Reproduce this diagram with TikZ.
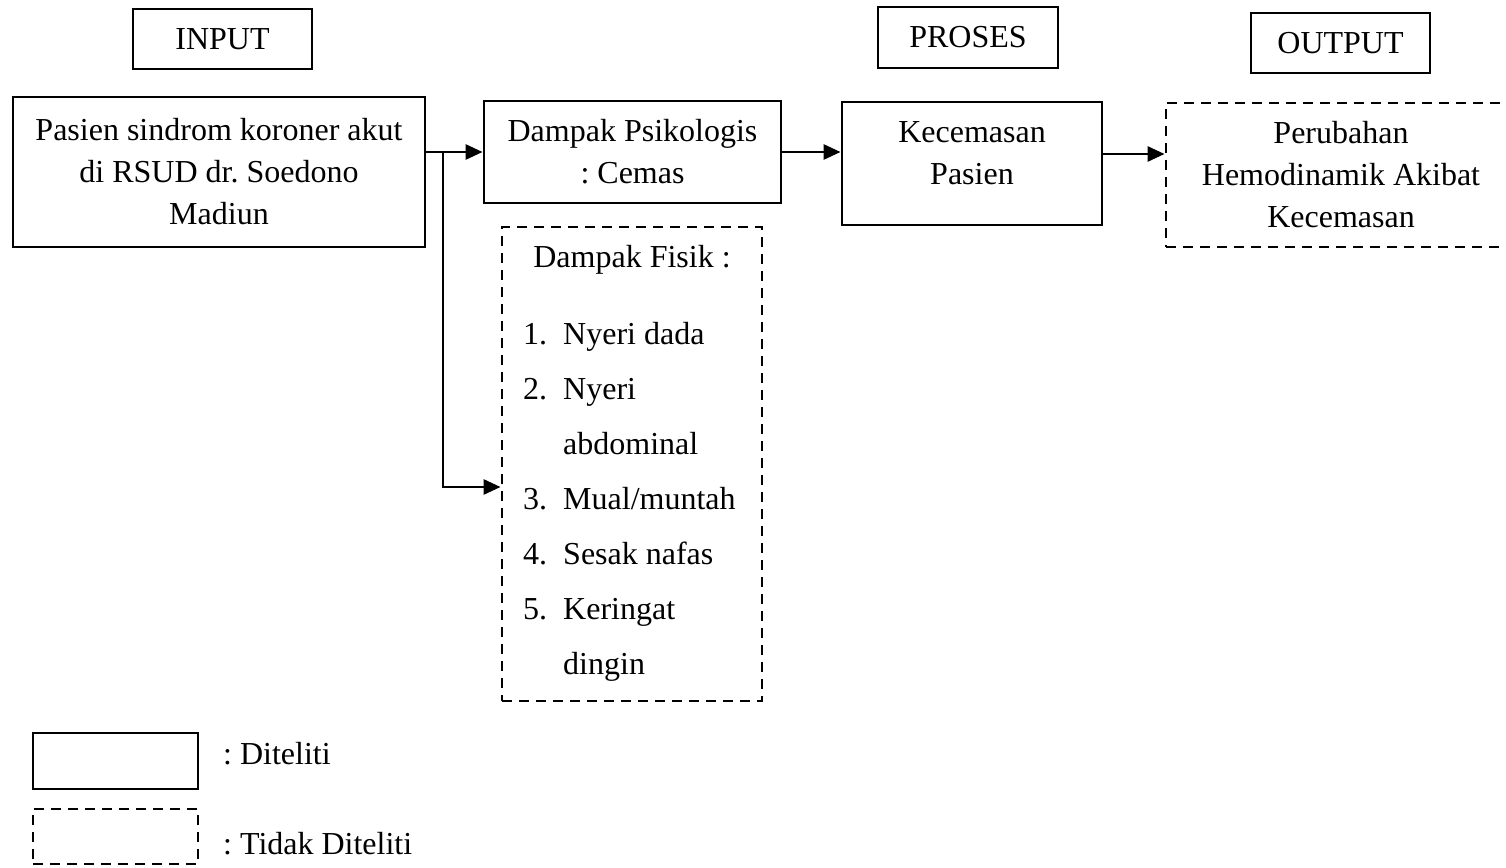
\documentclass[tikz,border=0pt]{standalone}
\usepackage{fontspec}
\setmainfont{Liberation Serif}
\usetikzlibrary{arrows.meta}
\frenchspacing
\begin{document}
\begin{tikzpicture}[x=1pt,y=-1pt,
  txt/.style={font=\fontsize{32}{42}\selectfont, align=center, inner sep=0pt},
  boxs/.style={draw, line width=2.9pt, rectangle, inner sep=0pt, txt},
  boxd/.style={boxs, dash pattern=on 10pt off 7pt},
  arr/.style={line width=2.9pt, -{Triangle[length=17pt,width=15pt]}},
  ln/.style={line width=2.9pt}]
\useasboundingbox (0,0) rectangle (1506,867);
% header labels
\node[boxs, minimum width=179pt, minimum height=60pt] (inp) at (222.5,39) {INPUT};
\node[boxs, minimum width=180pt, minimum height=61pt] (pro) at (968,37.5) {PROSES};
\node[boxs, minimum width=179pt, minimum height=60pt] (outl) at (1340.5,43) {OUTPUT};
% main boxes
\node[boxs, minimum width=412pt, minimum height=150pt] (pas) at (219,172) {Pasien sindrom koroner akut\\di RSUD dr. Soedono\\Madiun};
\node[boxs, minimum width=297pt, minimum height=102pt] (psi) at (632.5,152) {Dampak Psikologis\\: Cemas};
\node[boxs, minimum width=260pt, minimum height=123pt] (kec) at (972,163.5) {};
\node[txt] (kect) at (972,153.5) {Kecemasan\\Pasien};
\node[boxd, minimum width=350pt, minimum height=144pt] (out) at (1341,175) {Perubahan\\Hemodinamik Akibat\\Kecemasan};
\node[boxd, minimum width=260pt, minimum height=474pt] (fis) at (632,464) {};
\node[txt, anchor=base] (fish) at (632,267) {Dampak Fisik :};
\node[txt, anchor=base west] (fisl) at (523,344) {\fontsize{32}{55}\selectfont
  \begin{tabular}[t]{@{}l@{\hspace{16pt}}l@{}}
  1. & Nyeri dada\\
  2. & Nyeri\\
     & abdominal\\
  3. & Mual/muntah\\
  4. & Sesak nafas\\
  5. & Keringat\\
     & dingin
  \end{tabular}};
% connectors
\coordinate (j) at (443,152);
\coordinate (j2) at (443,487);
\coordinate (ka) at (1102,154);
\draw[arr] (pas.east |- j) -- (psi.west |- j);
\draw[arr] (j) -- (j2) -- (fis.west |- j2);
\draw[arr] (psi.east) -- (kec.west |- psi.east);
\draw[arr] (kec.east |- ka) -- (out.west |- ka);
% legend
\node[boxs, minimum width=165pt, minimum height=56pt] (leg1) at (115.5,761) {};
\node[boxd, minimum width=165pt, minimum height=55pt] (leg2) at (115.5,836.5) {};
\node[txt, anchor=base west] (leg1t) at (223,764) {: Diteliti};
\node[txt, anchor=base west] (leg2t) at (223,854) {: Tidak Diteliti};
\end{tikzpicture}
\end{document}
